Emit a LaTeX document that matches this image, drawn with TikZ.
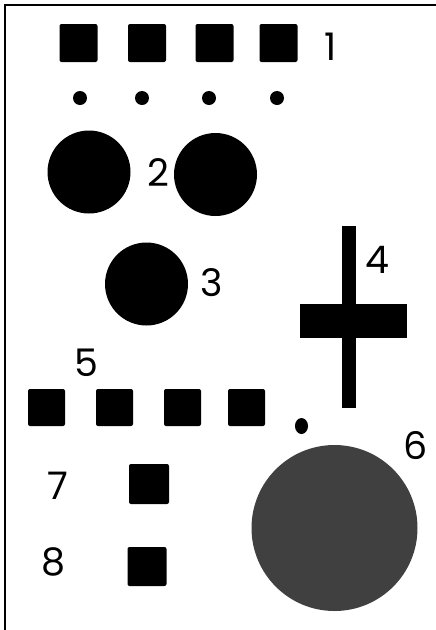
\documentclass[tikz,border=0pt]{standalone}
\usepackage{fontspec}
\setmainfont{Poppins}
\usetikzlibrary{shapes.geometric}

\begin{document}
\begin{tikzpicture}[
  x=1pt, y=-1pt,
  every node/.style={inner sep=0pt, outer sep=0pt},
  key/.style={fill=black, rounded corners=2pt, minimum size=38pt},
  led/.style={ellipse, fill=black, minimum width=14pt, minimum height=14pt},
  knob/.style={circle, fill=black, minimum size=83pt},
  bar/.style={fill=black},
  lbl/.style={font=\fontsize{38}{38}\selectfont},
]
\useasboundingbox (0,0) rectangle (436,630);
% panel edge
\draw[line width=2pt] (5,630) -- (5,5) -- (436,5);

% row of keys 1 with their leds
\foreach \i/\x/\lx in {1/78.5/80, 2/147/142, 3/214.5/209, 4/278.5/277} {
  \node[key] (k\i) at (\x,43) {};
  \node[led] (d\i) at (\lx,98) {};
}
\node[lbl] (l1) at (331,47) {1};

% knobs 2 and 3
\node[knob] (kn2a) at (89,172) {};
\node[knob] (kn2b) at (215.5,174.5) {};
\node[lbl] (l2) at (158,173) {2};
\node[knob] (kn3) at (146.5,284) {};
\node[lbl] (l3) at (212,283) {3};

% slider 4
\node[bar, minimum width=14pt, minimum height=182pt] (rail) at (349,317) {};
\node[bar, minimum width=107pt, minimum height=34pt] (slide) at (353.5,321) {};
\node[lbl] (l4) at (377,260) {4};

% row of keys 5
\node[lbl] (l5) at (86,363) {5};
\foreach \i/\x in {1/46.5, 2/114.5, 3/182.5, 4/246.5}
  \node[key, minimum size=37pt] (m\i) at (\x,407.5) {};

% big knob 6
\node[led, minimum width=13pt, minimum height=16pt] (d6) at (301.5,426) {};
\node[knob, fill=black!75, minimum size=166pt] (kn6) at (334.5,528) {};
\node[lbl] (l6) at (416,446) {6};

% keys 7 and 8
\node[lbl] (l7) at (58,486) {7};
\node[key, minimum size=40pt] (k7) at (149,484) {};
\node[lbl] (l8) at (53,562) {8};
\node[key, minimum size=39pt] (k8) at (147,566.5) {};
\end{tikzpicture}
\end{document}
